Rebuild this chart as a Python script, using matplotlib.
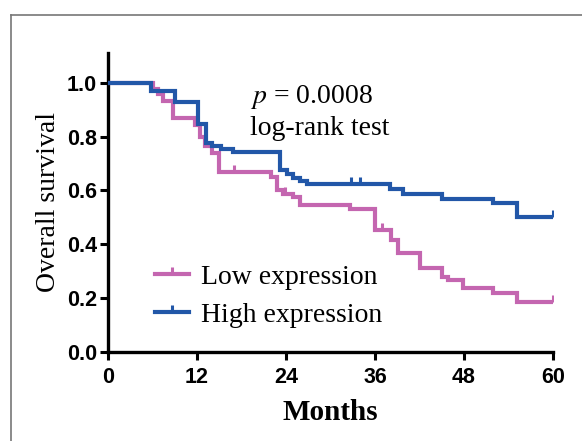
import numpy as np
import matplotlib
matplotlib.use('Agg')
import matplotlib.pyplot as plt
from matplotlib.lines import Line2D

# --- data (months, survival fraction) ---
low_times = [0, 6.1, 6.7, 7.4, 8.8, 11.7, 12.4, 13.1, 14.0, 14.9, 22.0, 22.8, 23.6,
             25.0, 25.9, 32.6, 36.0, 38.2, 39.1, 42.0, 45.0, 45.9, 47.9, 51.9, 55.1, 60]
low_surv = [1.0, 0.978, 0.956, 0.933, 0.870, 0.844, 0.800, 0.763, 0.739, 0.670, 0.649, 0.600, 0.587,
            0.575, 0.544, 0.532, 0.454, 0.414, 0.367, 0.311, 0.280, 0.268, 0.237, 0.218, 0.187, 0.187]
low_censor = [17.0, 23.9, 36.9, 60]

high_times = [0, 5.8, 9.0, 12.2, 13.2, 14.0, 15.3, 16.9, 23.2, 24.1, 25.0, 25.9, 26.8,
              38.0, 39.8, 45.0, 51.9, 55.1, 60]
high_surv = [1.0, 0.970, 0.928, 0.845, 0.776, 0.766, 0.755, 0.741, 0.674, 0.662, 0.647, 0.635, 0.622,
             0.605, 0.587, 0.569, 0.553, 0.503, 0.503]
high_censor = [32.8, 34.0, 60]

x_ticks = [0, 12, 24, 36, 48, 60]
y_ticks = [0.0, 0.2, 0.4, 0.6, 0.8, 1.0]

pink = '#C466B0'
blue = '#2257A8'

serif = ['Liberation Serif', 'DejaVu Serif']
sans = ['Liberation Sans', 'DejaVu Sans']


def surv_at(times, surv, t):
    # value of the step curve just at time t
    idx = np.searchsorted(times, t, side='right') - 1
    return np.asarray(surv)[idx]


fig = plt.figure(figsize=(5.82, 4.41), dpi=100)
ax = fig.add_axes([108 / 582, 1 - 352 / 441, 445 / 582, 299 / 441])

for times, surv, cens, col in [(low_times, low_surv, low_censor, pink),
                               (high_times, high_surv, high_censor, blue)]:
    ax.step(times, surv, where='post', color=col, lw=3.0, solid_joinstyle='miter', zorder=3)
    ax.plot(cens, surv_at(times, surv, cens), ls='none', marker=2, ms=5, mew=2.2,
            color=col, zorder=3)

ax.set_xlim(0, 60)
ax.set_ylim(0, 1.11)
ax.set_xticks(x_ticks)
ax.set_yticks(y_ticks)
ax.set_yticklabels([f'{v:.1f}' for v in y_ticks])
for s in ['top', 'right']:
    ax.spines[s].set_visible(False)
for s in ['left', 'bottom']:
    ax.spines[s].set_linewidth(2.4)
ax.tick_params(direction='out', length=6, width=2.2)
ax.tick_params(axis='x', pad=5)
ax.tick_params(axis='y', pad=2)
for lbl in ax.get_xticklabels() + ax.get_yticklabels():
    lbl.set_fontfamily(sans)
    lbl.set_fontweight('bold')
    lbl.set_fontsize(15.5)

ax.set_xlabel('Months', fontfamily=serif, fontweight='bold', fontsize=21, labelpad=8)
ax.set_ylabel('Overall survival', fontfamily=serif, fontsize=20, labelpad=4)

ax.text(19.1, 0.945, r'$p$ = 0.0008', fontfamily=serif, fontsize=20, va='center',
        math_fontfamily='stix')
ax.text(19.1, 0.830, 'log-rank test', fontfamily=serif, fontsize=20, va='center')

leg = ax.legend([Line2D([0, 1], [0, 0], color=pink, lw=3.0, marker=2, ms=5, mew=2.2),
                 Line2D([0, 1], [0, 0], color=blue, lw=3.0, marker=2, ms=5, mew=2.2)],
                ['Low expression', 'High expression'],
                loc='lower left', bbox_to_anchor=(0.105, 0.08), frameon=False,
                handlelength=1.25, handletextpad=0.4, labelspacing=0.45,
                borderpad=0, borderaxespad=0, numpoints=1,
                prop={'family': serif, 'size': 20})

# grey outer frame of the original panel
fig.add_artist(Line2D([11 / 582, 11 / 582], [0, 1 - 15 / 441], color='#777777', lw=1.2))
fig.add_artist(Line2D([11 / 582, 1], [1 - 15 / 441, 1 - 15 / 441], color='#777777', lw=1.2))

fig.savefig('out.png', dpi=100)
